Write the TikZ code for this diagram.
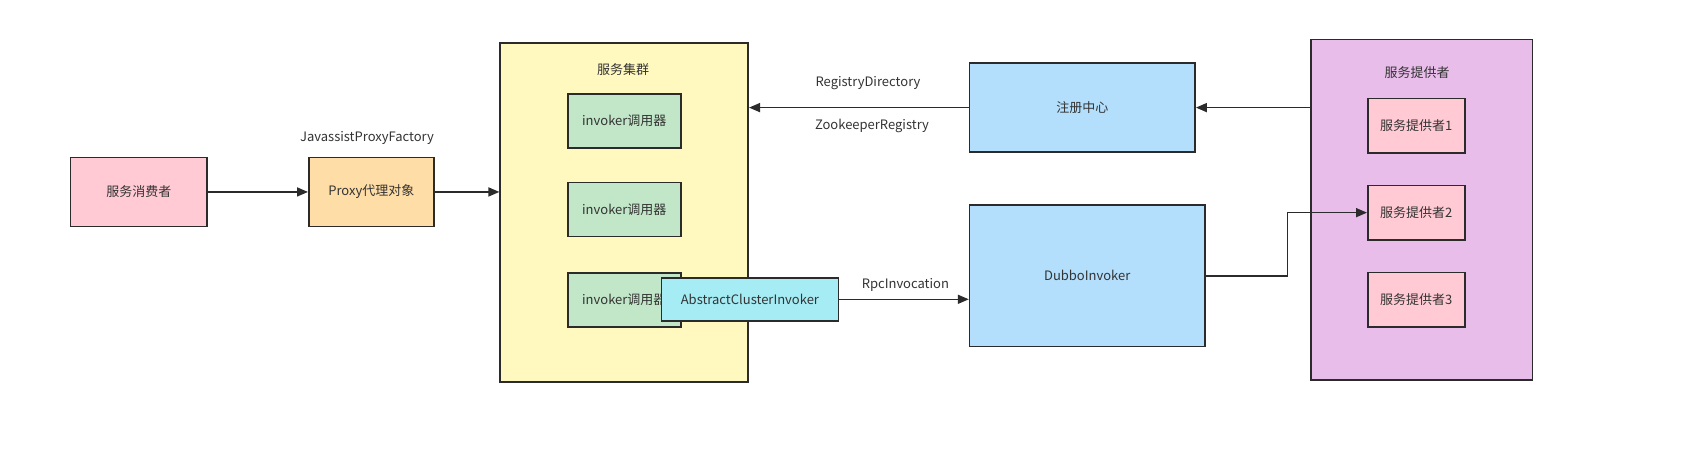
\documentclass[tikz,border=0pt]{standalone}
\usepackage{fontspec}
\setmainfont{Noto Sans CJK SC}
\usetikzlibrary{arrows.meta}
\definecolor{stroke}{HTML}{2B2B2B}
\definecolor{txt}{HTML}{333333}
\definecolor{cpink}{HTML}{FFCAD3}
\definecolor{corange}{HTML}{FFDDA6}
\definecolor{cyellow}{HTML}{FFF8BF}
\definecolor{cgreen}{HTML}{C2E7C8}
\definecolor{ccyan}{HTML}{A6ECF4}
\definecolor{cblue}{HTML}{B3DFFD}
\definecolor{cpurple}{HTML}{E8BDEA}
\tikzset{
  box/.style={draw=stroke, line width=1.6pt, rectangle, inner sep=0pt, anchor=north west, text=txt, font=\fontsize{13}{15}\selectfont},
  lbl/.style={text=txt, font=\fontsize{13}{15}\selectfont, inner sep=0pt},
  conn/.style={draw=stroke, line width=1.6pt, -{Triangle[length=11pt,width=9pt]}},
  plain/.style={draw=stroke, line width=1.6pt}
}
\begin{document}
\begin{tikzpicture}[x=1pt,y=-1pt]
\useasboundingbox (0,0) rectangle (1684,464);
% containers
\node[box, fill=cyellow, minimum width=248pt, minimum height=339.4pt] (cluster) at (499.4,41.9) {};
\node[lbl] (clustert) at (623,70) {服务集群};
\node[box, fill=cpurple, minimum width=221.5pt, minimum height=340.3pt] (prov) at (1310,38.7) {};
\node[lbl] (provt) at (1417,73) {服务提供者};
% left side
\node[box, fill=cpink, minimum width=136.4pt, minimum height=68.7pt] (consumer) at (69.8,156.8) {};
\node[lbl] at (consumer.center) {服务消费者};
\node[box, fill=corange, minimum width=125pt, minimum height=68.7pt] (proxy) at (308,156.8) {};
\node[lbl] at (proxy.center) {Proxy代理对象};
\node[lbl] (jpf) at (367,137.5) {JavassistProxyFactory};
% invokers
\node[box, fill=cgreen, minimum width=113pt, minimum height=54pt] (inv1) at (567,93) {};
\node[lbl] at (inv1.center) {invoker调用器};
\node[box, fill=cgreen, minimum width=113pt, minimum height=54pt] (inv2) at (567,181.5) {};
\node[lbl] at (inv2.center) {invoker调用器};
\node[box, fill=cgreen, minimum width=113pt, minimum height=54pt] (inv3) at (567,272) {};
\node[lbl] at (inv3.center) {invoker调用器};
\node[box, fill=ccyan, minimum width=177.2pt, minimum height=43pt] (abs) at (660.5,277) {};
\node[lbl] at (abs.center) {AbstractClusterInvoker};
% middle right
\node[box, fill=cblue, minimum width=225.5pt, minimum height=89pt] (reg) at (968.8,62.3) {};
\node[lbl] at (reg.center) {注册中心};
\node[box, fill=cblue, minimum width=235.2pt, minimum height=141.8pt] (dubbo) at (968.8,204) {};
\node[lbl] at (dubbo.center) {DubboInvoker};
\node[lbl] (rd) at (868,82.7) {RegistryDirectory};
\node[lbl] (zr) at (872,125.7) {ZookeeperRegistry};
\node[lbl] (rpc) at (905.4,284.6) {RpcInvocation};
% providers
\node[box, fill=cpink, minimum width=97pt, minimum height=54.3pt] (p1) at (1367,97.7) {};
\node[lbl] at (p1.center) {服务提供者1};
\node[box, fill=cpink, minimum width=97pt, minimum height=54.3pt] (p2) at (1367,184.7) {};
\node[lbl] at (p2.center) {服务提供者2};
\node[box, fill=cpink, minimum width=97pt, minimum height=54.3pt] (p3) at (1367,271.7) {};
\node[lbl] at (p3.center) {服务提供者3};
% connectors
\draw[conn] (consumer.east) -- (proxy.west);
\draw[conn] (proxy.east) -- (proxy.east -| cluster.west);
\draw[conn] (reg.west) -- (reg.west -| cluster.east);
\draw[conn] (reg.east -| prov.west) -- (reg.east);
\draw[conn] (abs.east) -- (abs.east -| dubbo.west);
\draw[conn] (dubbo.east) -- ++(82,0) |- (p2.west);
\end{tikzpicture}
\end{document}
